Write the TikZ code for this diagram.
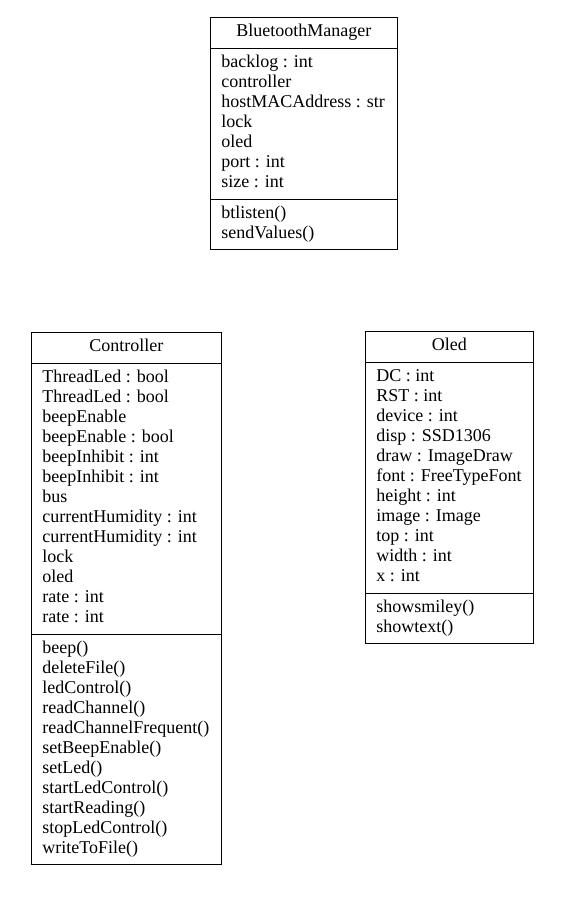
\documentclass[tikz,border=0pt]{standalone}
\usepackage{fontspec}
\setmainfont{Liberation Serif}
\usetikzlibrary{shapes.multipart, positioning}
\tikzstyle{umlclass} = [rectangle split, rectangle split parts=3, rectangle split part align={center,left,left}, draw=black, line width=0.8pt, inner xsep=11pt, inner ysep=5pt, align=left, font=\fontsize{18}{20}\selectfont, anchor=north west]

\begin{document}
\begin{tikzpicture}[x=1pt, y=1pt]
        \useasboundingbox (0,0) rectangle (574,-913);

        % Top class
        \node (bluetooth) [umlclass, minimum width=187pt] at (210,-17) {\strut BluetoothManager
            \nodepart{second}\strut backlog : int\\ controller\\ hostMACAddress : str\\ lock\\ oled\\ port : int\\ size : int\strut
            \nodepart{third}\strut btlisten()\\ sendValues()\strut};

        % Left class
        \node (controller) [umlclass, minimum width=190pt] at (31,-332) {\strut Controller
            \nodepart{second}\strut ThreadLed : bool\\ ThreadLed : bool\\ beepEnable\\ beepEnable : bool\\ beepInhibit : int\\ beepInhibit : int\\ bus\\ currentHumidity : int\\ currentHumidity : int\\ lock\\ oled\\ rate : int\\ rate : int\strut
            \nodepart{third}\strut beep()\\ deleteFile()\\ ledControl()\\ readChannel()\\ readChannelFrequent()\\ setBeepEnable()\\ setLed()\\ startLedControl()\\ startReading()\\ stopLedControl()\\ writeToFile()\strut};

        % Right class
        \node (oled) [umlclass, minimum width=168pt] at (365,-331) {\strut Oled
            \nodepart{second}\strut DC : int\\ RST : int\\ device : int\\ disp : SSD1306\\ draw : ImageDraw\\ font : FreeTypeFont\\ height : int\\ image : Image\\ top : int\\ width : int\\ x : int\strut
            \nodepart{third}\strut showsmiley()\\ showtext()\strut};

    \end{tikzpicture}
\end{document}
